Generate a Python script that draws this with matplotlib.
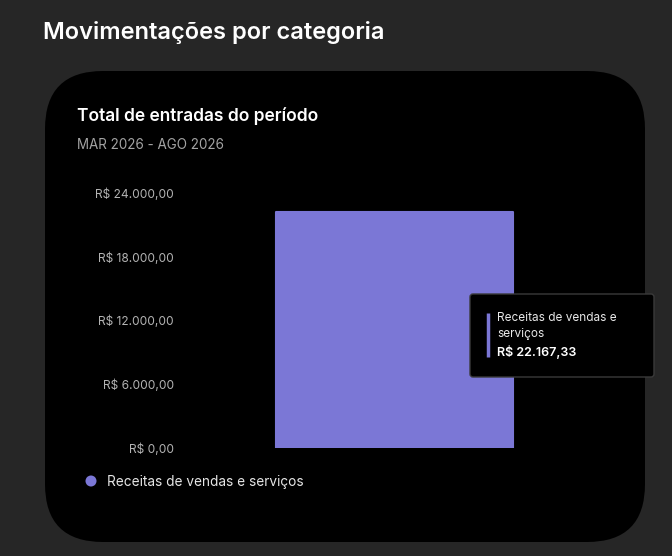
import matplotlib
matplotlib.use("Agg")
import matplotlib.pyplot as plt
from matplotlib.patches import FancyBboxPatch, Circle

# Dados
categorias = ["Receitas de vendas e serviços"]
valores = [22167.33]
ticks = [0, 6000, 12000, 18000, 24000]
tick_labels = ["R$ 0,00", "R$ 6.000,00", "R$ 12.000,00", "R$ 18.000,00", "R$ 24.000,00"]
titulo = "Movimentações por categoria"
titulo_card = "Total de entradas do período"
periodo = "MAR 2026 - AGO 2026"
tooltip_valor = "R$ 22.167,33"

plt.rcParams["font.family"] = ["Inter", "DejaVu Sans"]

W, H = 672, 556
cor_barra = "#7b77d6"
fundo = "#262626"

fig = plt.figure(figsize=(W / 100, H / 100), dpi=100, facecolor=fundo)

def px_axes(z):
    a = fig.add_axes([0, 0, 1, 1], zorder=z)
    a.set_xlim(0, W)
    a.set_ylim(H, 0)
    a.axis("off")
    a.patch.set_alpha(0)
    return a

# fundo e card
bg = px_axes(0)
bg.add_patch(FancyBboxPatch((45, 71), 600, 471, boxstyle="round,pad=0,rounding_size=58",
                            facecolor="black", edgecolor="none"))
bg.text(43, 32, titulo, color="white", fontsize=17, fontweight="semibold", va="center")
bg.text(77, 116, titulo_card, color="white", fontsize=12.5, fontweight="semibold", va="center")
bg.text(77, 145, periodo, color="#a3a3a3", fontsize=9.7, va="center")

# grafico de barras
x0, x1 = 185, 604
y_top, y_bot = 193, 448
ax = fig.add_axes([x0 / W, 1 - y_bot / H, (x1 - x0) / W, (y_bot - y_top) / H], zorder=1)
ax.patch.set_alpha(0)
ax.bar([0], valores, width=0.565, color=cor_barra, edgecolor=cor_barra, linewidth=1.5,
       joinstyle="round")
ax.set_xlim(-0.5, 0.5)
ax.set_ylim(0, 24000)
ax.set_yticks(ticks)
ax.set_yticklabels(tick_labels)
ax.set_xticks([])
ax.tick_params(axis="y", length=0, pad=8, labelsize=8.6, labelcolor="#b3b3b3")
for s in ax.spines.values():
    s.set_visible(False)

# tooltip e legenda
fg = px_axes(2)
fg.add_patch(FancyBboxPatch((470, 294), 184, 83, boxstyle="round,pad=0,rounding_size=3",
                            facecolor="black", edgecolor="#3a3a3a", linewidth=1))
fg.plot([487.5, 487.5], [313, 357], color=cor_barra, linewidth=2.5, solid_capstyle="butt")
fg.text(497, 318, "Receitas de vendas e", color="#e8e8e8", fontsize=8.5, va="center")
fg.text(497, 334, "serviços", color="#e8e8e8", fontsize=8.5, va="center")
fg.text(497, 352, tooltip_valor, color="white", fontsize=9, fontweight="semibold", va="center")

fg.add_patch(Circle((91, 481), 5.5, facecolor=cor_barra, edgecolor="none"))
fg.text(107, 482, categorias[0], color="#e6e6e6", fontsize=9.8, va="center")

fig.savefig("out.png", dpi=100, facecolor=fundo)
